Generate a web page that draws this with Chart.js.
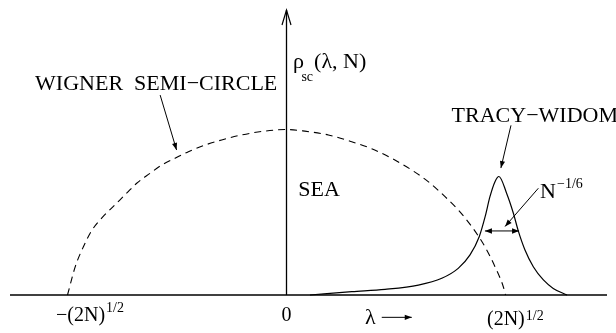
<!DOCTYPE html>
<html><head><meta charset="utf-8">
<script src="https://cdn.jsdelivr.net/npm/chart.js@4"></script>
<style>html,body{margin:0;padding:0;background:#fff;}canvas{display:block;}</style>
</head><body>
<canvas id="c" width="616" height="333"></canvas>
<script>
// Wigner semi-circle (x in units of (2N)^{1/2}, y relative to its maximum)
const semiX = [-1.00,-0.965,-0.928,-0.889,-0.84,-0.783,-0.73,-0.684,-0.623,-0.57,-0.509,-0.448,-0.372,-0.296,-0.205,-0.113,0,0.084,0.191,0.298,0.389,0.48,0.572,0.647,0.724,0.784,0.846,0.906,0.952,0.99,1.0];
const semiY = [0,0.17,0.29,0.39,0.47,0.545,0.615,0.675,0.735,0.785,0.826,0.866,0.906,0.937,0.967,0.988,1.0,0.99,0.967,0.926,0.884,0.826,0.755,0.685,0.594,0.514,0.413,0.292,0.171,0.05,0];
// Tracy-Widom edge density
const twX = [0.107,0.298,0.450,0.602,0.709,0.784,0.838,0.880,0.907,0.929,0.952,0.970,1.005,1.036,1.058,1.089,1.127,1.173,1.218,1.281];
const twY = [0,0.020,0.034,0.060,0.101,0.161,0.242,0.352,0.473,0.594,0.685,0.716,0.615,0.494,0.389,0.272,0.171,0.091,0.040,0];
// axes extents
const xAxisRange = [-1.2626, 1.4635];
const yAxisRange = [0, 1.722];
// tick labels
const tickValues = [-1, 0, 1];
const tickMain = ["\u2212(2N)", "0", "(2N)"];
const tickSup = ["1/2", "", "1/2"];
// width marker N^{-1/6}
const widthMarkX = [0.906, 1.062];
const widthMarkY = [0.387, 0.387];
// annotation texts
const textWigner = "WIGNER  SEMI\u2212CIRCLE";
const textTracy = "TRACY\u2212WIDOM";
const textSea = "SEA";
const textRho = "\u03C1";
const textRhoSub = "sc";
const textRhoArgs = "(\u03BB, N)";
const textN = "N";
const textNSup = "\u22121/6";
const textLambda = "\u03BB";

const FONT = '"Liberation Serif", "Times New Roman", serif';
function pts(xs, ys){ return xs.map((x,i)=>({x:x, y:ys[i]})); }

function head(ctx, x1, y1, x2, y2, len, hw){
  const a = Math.atan2(y2-y1, x2-x1), c=Math.cos(a), s=Math.sin(a);
  ctx.beginPath();
  ctx.moveTo(x2, y2);
  ctx.lineTo(x2-len*c+hw*s, y2-len*s-hw*c);
  ctx.lineTo(x2-len*c-hw*s, y2-len*s+hw*c);
  ctx.closePath(); ctx.fill();
}
function arrow(ctx, x1, y1, x2, y2){
  ctx.beginPath(); ctx.moveTo(x1,y1); ctx.lineTo(x2,y2); ctx.stroke();
  head(ctx, x1, y1, x2, y2, 7, 2.6);
}
function txt(ctx, s, x, y, size){
  ctx.font = size + 'px ' + FONT;
  ctx.fillText(s, x, y);
  return ctx.measureText(s).width;
}

const annot = {
  id: 'annot',
  afterDatasetsDraw(chart){
    const ctx = chart.ctx, X = chart.scales.x, Y = chart.scales.y;
    const px = v => X.getPixelForValue(v), py = v => Y.getPixelForValue(v);
    ctx.save();
    ctx.fillStyle = '#000'; ctx.strokeStyle = '#000'; ctx.lineWidth = 1;
    ctx.textBaseline = 'alphabetic'; ctx.textAlign = 'left';
    // y-axis open arrowhead
    const ax = px(0), ay = py(yAxisRange[1]);
    ctx.lineWidth = 1.2;
    ctx.beginPath(); ctx.moveTo(ax-4.5, ay+15); ctx.lineTo(ax, ay); ctx.lineTo(ax+4.5, ay+15); ctx.stroke();
    ctx.lineWidth = 1;
    // width marker arrowheads
    const mx1 = px(widthMarkX[0]), mx2 = px(widthMarkX[1]), my = py(widthMarkY[0]);
    head(ctx, mx2, my, mx1, my, 7, 2.8);
    head(ctx, mx1, my, mx2, my, 7, 2.8);
    // pointer arrows
    arrow(ctx, px(-0.577), py(1.208), px(-0.502), py(0.876));
    arrow(ctx, px(1.025), py(1.025), px(0.979), py(0.767));
    arrow(ctx, px(1.150), py(0.645), px(0.998), py(0.414));
    // lambda arrow
    const ly = py(-0.135);
    arrow(ctx, px(0.435), ly, px(0.572), ly);
    // texts
    txt(ctx, textWigner, px(-1.148), py(1.239), 22);
    txt(ctx, textTracy, px(0.754), py(1.047), 22);
    txt(ctx, textSea, px(0.054), py(0.598), 22);
    txt(ctx, textRho, px(0.030), py(1.372), 22);
    txt(ctx, textRhoSub, px(0.068), py(1.293), 14);
    txt(ctx, textRhoArgs, px(0.126), py(1.372), 22);
    const wN = txt(ctx, textN, px(1.158), py(0.586), 22);
    txt(ctx, textNSup, px(1.158)+wN+1, py(0.647), 14);
    txt(ctx, textLambda, px(0.358), py(-0.175), 22);
    // tick labels
    const starts = [-11.5, null, -18.5], bases = [-0.156, -0.156, -0.181], supB = [-0.101, 0, -0.151];
    for (let i=0;i<tickValues.length;i++){
      const t = px(tickValues[i]);
      ctx.font = '20px ' + FONT;
      const w = ctx.measureText(tickMain[i]).width;
      const x0 = starts[i] === null ? t - w/2 : t + starts[i];
      txt(ctx, tickMain[i], x0, py(bases[i]), 20);
      if (tickSup[i]) txt(ctx, tickSup[i], x0 + w + 1, py(supB[i]), 14);
    }
    ctx.restore();
  }
};

new Chart(document.getElementById('c'), {
  type: 'scatter',
  data: { datasets: [
    { data: pts(semiX, semiY), showLine: true, borderColor: '#000', borderWidth: 1.1, borderDash: [7,5], pointRadius: 0, cubicInterpolationMode: 'monotone', clip: false },
    { data: pts(twX, twY), showLine: true, borderColor: '#000', borderWidth: 1.2, pointRadius: 0, cubicInterpolationMode: 'monotone', clip: false },
    { data: pts(xAxisRange, [0,0]), showLine: true, borderColor: '#000', borderWidth: 1.5, pointRadius: 0, clip: false },
    { data: pts([0,0], yAxisRange), showLine: true, borderColor: '#000', borderWidth: 1.3, pointRadius: 0, clip: false },
    { data: pts(widthMarkX, widthMarkY), showLine: true, borderColor: '#000', borderWidth: 1, pointRadius: 0, clip: false }
  ]},
  options: {
    responsive: false, animation: false, devicePixelRatio: 1,
    layout: { padding: { left: 10, right: 9, top: 10, bottom: 38 } },
    scales: {
      x: { type: 'linear', min: xAxisRange[0], max: xAxisRange[1], display: false },
      y: { type: 'linear', min: yAxisRange[0], max: yAxisRange[1], display: false }
    },
    plugins: { legend: { display: false }, tooltip: { enabled: false } }
  },
  plugins: [annot]
});
</script>
</body></html>
